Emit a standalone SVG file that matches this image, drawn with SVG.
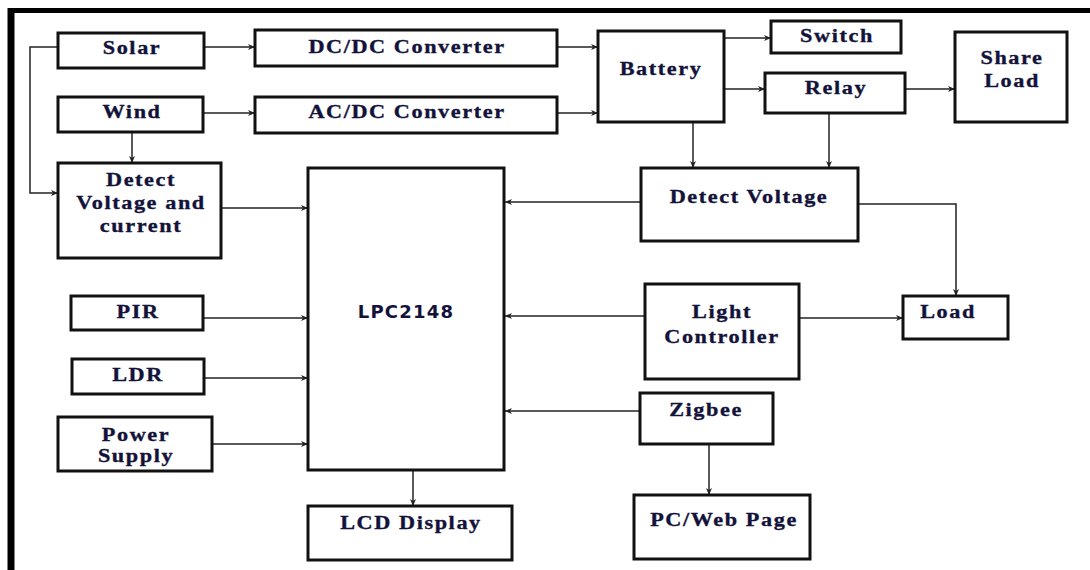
<svg xmlns="http://www.w3.org/2000/svg" width="1090" height="570" viewBox="0 0 1090 570">
<style>
.box{fill:#fff;stroke:#111;stroke-width:3}
.t{font-family:"Liberation Serif","Times New Roman",serif;font-weight:bold;font-size:19.5px;letter-spacing:1.4px;fill:#12123a;stroke:#12123a;stroke-width:0.35;text-anchor:middle}
.s{font-family:"DejaVu Sans",Verdana,sans-serif;font-weight:bold;font-size:18px;letter-spacing:1.2px;fill:#12123a;text-anchor:middle}
.c{fill:none;stroke:#222;stroke-width:1.5}
.a{marker-end:url(#ah)}
</style>
<defs>
<marker id="ah" markerWidth="8" markerHeight="8" refX="7" refY="4" orient="auto" markerUnits="userSpaceOnUse">
<path d="M0,1 L7,4 L0,7 L2,4 Z" fill="#222"/>
</marker>
</defs>
<rect width="1090" height="570" fill="#fff"/>
<g id="frame">
<line x1="8" y1="10.5" x2="1090" y2="10.5" stroke="#000" stroke-width="5"/>
<line x1="11" y1="8" x2="11" y2="570" stroke="#000" stroke-width="7"/>
</g>
<g id="connectors">
<path class="c a" d="M204,47 H255"/>
<path class="c a" d="M203,113 H255"/>
<path class="c a" d="M58,47 H30 V193 H58"/>
<path class="c a" d="M132,132 V163"/>
<path class="c a" d="M221,208 H308"/>
<path class="c a" d="M557,47 H598"/>
<path class="c a" d="M557,113 H598"/>
<path class="c a" d="M724,38 H771"/>
<path class="c a" d="M724,89 H765"/>
<path class="c a" d="M905,89 H955"/>
<path class="c a" d="M693,122 V168"/>
<path class="c a" d="M829,113 V168"/>
<path class="c a" d="M641,202 H505"/>
<path class="c a" d="M858,204 H956 V296"/>
<path class="c a" d="M645,316 H505"/>
<path class="c a" d="M799,318 H903"/>
<path class="c a" d="M640,411 H505"/>
<path class="c a" d="M709,444 V495"/>
<path class="c a" d="M413,470 V506"/>
<path class="c a" d="M203,318 H308"/>
<path class="c a" d="M204,378 H308"/>
<path class="c a" d="M212,444 H308"/>
</g>
<g id="solar"><rect class="box" x="58" y="33" width="146" height="35"/><text class="t" transform="translate(132,54) scale(1.14,1)">Solar</text></g>
<g id="wind"><rect class="box" x="58" y="97" width="145" height="35"/><text class="t" transform="translate(132,118) scale(1.14,1)">Wind</text></g>
<g id="detect-vc"><rect class="box" x="58" y="163" width="163" height="95"/><text class="t" transform="translate(141,186) scale(1.14,1)">Detect</text><text class="t" transform="translate(141,209) scale(1.14,1)">Voltage and</text><text class="t" transform="translate(141,232) scale(1.14,1)">current</text></g>
<g id="dcdc"><rect class="box" x="255" y="30" width="302" height="36"/><text class="t" transform="translate(407,53) scale(1.14,1)">DC/DC Converter</text></g>
<g id="acdc"><rect class="box" x="255" y="97" width="302" height="36"/><text class="t" transform="translate(407,118) scale(1.14,1)">AC/DC Converter</text></g>
<g id="battery"><rect class="box" x="598" y="31" width="126" height="91"/><text class="t" transform="translate(661,75) scale(1.14,1)">Battery</text></g>
<g id="switch"><rect class="box" x="771" y="21" width="130" height="32"/><text class="t" transform="translate(837,42) scale(1.14,1)">Switch</text></g>
<g id="relay"><rect class="box" x="765" y="73" width="140" height="40"/><text class="t" transform="translate(836,94) scale(1.14,1)">Relay</text></g>
<g id="share-load"><rect class="box" x="955" y="32" width="112" height="90"/><text class="t" transform="translate(1012,64) scale(1.14,1)">Share</text><text class="t" transform="translate(1012,87) scale(1.14,1)">Load</text></g>
<g id="detect-v"><rect class="box" x="641" y="168" width="217" height="73"/><text class="t" transform="translate(749,203) scale(1.14,1)">Detect Voltage</text></g>
<g id="lpc"><rect class="box" x="308" y="168" width="196" height="302"/><text class="s" x="406" y="318">LPC2148</text></g>
<g id="pir"><rect class="box" x="71" y="296" width="132" height="34"/><text class="t" transform="translate(138,318) scale(1.14,1)">PIR</text></g>
<g id="ldr"><rect class="box" x="72" y="359" width="132" height="35"/><text class="t" transform="translate(138,381) scale(1.14,1)">LDR</text></g>
<g id="power"><rect class="box" x="58" y="417" width="154" height="54"/><text class="t" transform="translate(136,441) scale(1.14,1)">Power</text><text class="t" transform="translate(136,462) scale(1.14,1)">Supply</text></g>
<g id="lcd"><rect class="box" x="308" y="506" width="204" height="54"/><text class="t" transform="translate(411,529) scale(1.14,1)">LCD Display</text></g>
<g id="light"><rect class="box" x="645" y="284" width="154" height="95"/><text class="t" transform="translate(722,318) scale(1.14,1)">Light</text><text class="t" transform="translate(722,343) scale(1.14,1)">Controller</text></g>
<g id="load"><rect class="box" x="903" y="296" width="105" height="43"/><text class="t" transform="translate(948,318) scale(1.14,1)">Load</text></g>
<g id="zigbee"><rect class="box" x="640" y="393" width="133" height="51"/><text class="t" transform="translate(706,416) scale(1.14,1)">Zigbee</text></g>
<g id="pcweb"><rect class="box" x="634" y="495" width="176" height="64"/><text class="t" transform="translate(724,526) scale(1.14,1)">PC/Web Page</text></g>
</svg>
